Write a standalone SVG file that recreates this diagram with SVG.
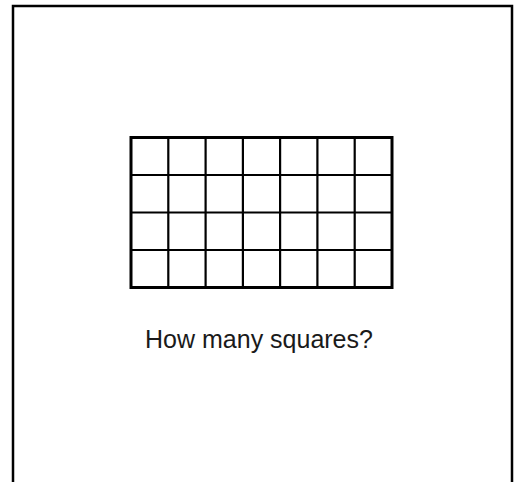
<svg xmlns="http://www.w3.org/2000/svg" width="517" height="482" viewBox="0 0 517 482">
<style>
.frame{fill:none;stroke:#000;stroke-width:2.5}
.outer{fill:#fff;stroke:#000;stroke-width:3}
.inner{stroke:#000;stroke-width:2.2;fill:none}
.label{font-family:"Liberation Sans",Arial,sans-serif;font-size:25px;fill:#1a1a1a}
</style>
<rect width="517" height="482" fill="#fff"/>
<path class="frame" d="M13,482 V6 H512 V482"/>
<g id="grid">
<rect class="outer" x="131" y="137.5" width="261" height="150"/>
<path class="inner" d="M168.3,137.5V287.5M205.6,137.5V287.5M242.9,137.5V287.5M280.1,137.5V287.5M317.4,137.5V287.5M354.7,137.5V287.5M131,175H392M131,212.5H392M131,250H392"/>
</g>
<g id="caption">
<text class="label" x="259" y="348" text-anchor="middle">How many squares?</text>
</g>
</svg>
